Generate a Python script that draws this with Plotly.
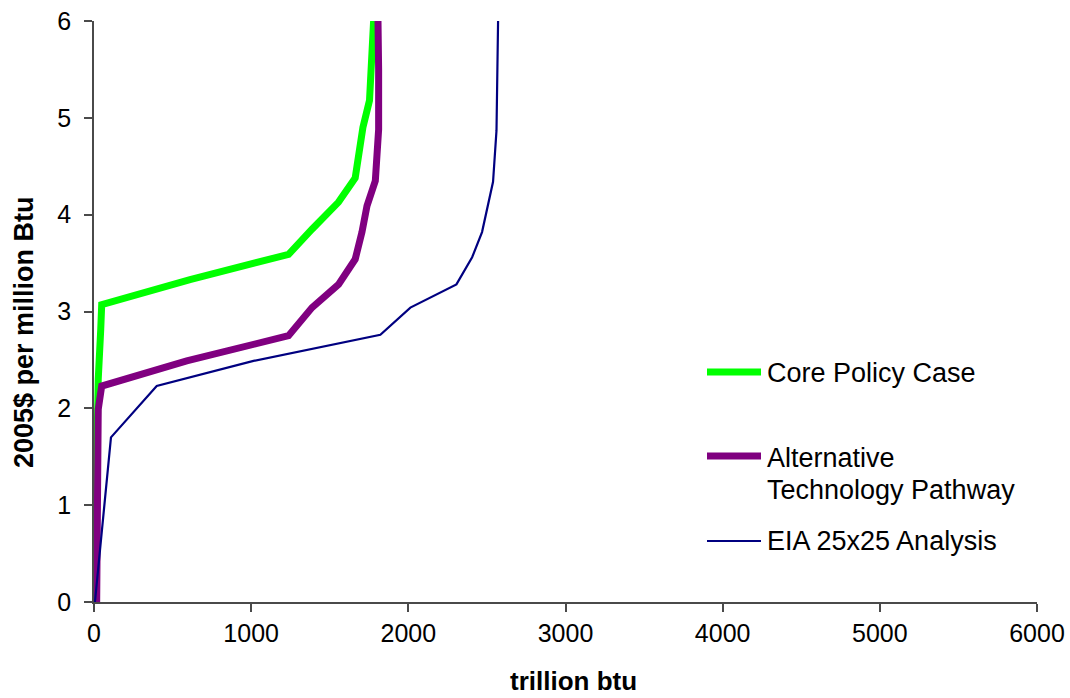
import plotly.graph_objects as go

# Data
core_x = [0, 10, 20, 27, 43, 49, 611, 1238, 1387, 1556, 1662, 1711, 1753, 1775, 1779]
core_y = [0, 1.0, 2.0, 2.3, 2.82, 3.07, 3.33, 3.59, 3.85, 4.13, 4.38, 4.90, 5.18, 5.71, 6.0]

alt_x = [17, 20, 27, 49, 590, 1238, 1387, 1556, 1662, 1705, 1737, 1790, 1811, 1811, 1807]
alt_y = [0, 1.0, 1.99, 2.23, 2.49, 2.75, 3.04, 3.28, 3.54, 3.82, 4.09, 4.35, 4.88, 5.5, 6.0]

eia_x = [6, 108, 399, 1015, 1822, 2013, 2306, 2406, 2469, 2539, 2561, 2565, 2571]
eia_y = [0, 1.70, 2.23, 2.49, 2.76, 3.04, 3.28, 3.56, 3.82, 4.34, 4.87, 5.40, 6.0]

series_names = ["Core Policy Case", "Alternative Technology Pathway", "EIA 25x25 Analysis"]
legend_lines = [["Core Policy Case"], ["Alternative", "Technology Pathway"], ["EIA 25x25 Analysis"]]
series_colors = ["#00FF00", "#800080", "#000080"]
series_widths = [7, 7, 2.2]

x_ticks = [0, 1000, 2000, 3000, 4000, 5000, 6000]
y_ticks = [0, 1, 2, 3, 4, 5, 6]

FONT = "Liberation Sans, Arial, sans-serif"

fig = go.Figure()
for xs, ys, name, col, w in [
    (core_x, core_y, series_names[0], series_colors[0], series_widths[0]),
    (alt_x, alt_y, series_names[1], series_colors[1], series_widths[1]),
    (eia_x, eia_y, series_names[2], series_colors[2], series_widths[2]),
]:
    fig.add_trace(go.Scatter(x=xs, y=ys, mode="lines", name=name,
                             line=dict(color=col, width=w), showlegend=False))

# Page geometry (body margin removed by post_script)
W, H = 1070, 698
PL, PR, PT, PB = 94, 1037, 21, 602  # plot area in page pixels
ml, mr, mt, mb = PL, W - PR, PT, H - PB

def px(x):
    return (x - PL) / (PR - PL)

def py(y):
    return (PB - y) / (PB - PT)

# Manual legend
sample_y = [372, 456, 541]
text_rows = [[372], [457, 489], [540]]
for i in range(3):
    fig.add_shape(type="line", xref="paper", yref="paper",
                  x0=px(707), x1=px(761), y0=py(sample_y[i]), y1=py(sample_y[i]),
                  line=dict(color=series_colors[i], width=series_widths[i]))
    for txt, ty in zip(legend_lines[i], text_rows[i]):
        fig.add_annotation(xref="paper", yref="paper", x=px(765), y=py(ty + 1),
                           text=txt, showarrow=False, xanchor="left", yanchor="middle",
                           align="left", font=dict(family=FONT, size=27, color="black"))

# Axis titles as annotations
fig.add_annotation(xref="paper", yref="paper", x=px(573), y=py(698),
                   text="<b>trillion btu</b>", showarrow=False, xanchor="center", yanchor="bottom",
                   font=dict(family=FONT, size=26, color="black"))
fig.add_annotation(xref="paper", yref="paper", x=px(24), y=py(332),
                   text="<b>2005$ per million Btu</b>", showarrow=False, textangle=-90,
                   xanchor="center", yanchor="middle",
                   font=dict(family=FONT, size=27, color="black"))

axis_col = "#4a4a4a"
fig.update_layout(
    width=W, height=H,
    margin=dict(l=ml, r=mr, t=mt, b=mb, autoexpand=False),
    paper_bgcolor="white", plot_bgcolor="white",
    font=dict(family=FONT, color="black"),
    xaxis=dict(range=[0, 6000], tickvals=x_ticks, showgrid=False, zeroline=False,
               showline=True, linecolor=axis_col, linewidth=1.5,
               ticks="outside", ticklen=8, tickcolor=axis_col, tickwidth=1.5,
               ticklabeloverflow="allow",
               tickfont=dict(family=FONT, size=25, color="black")),
    yaxis=dict(range=[0, 6], tickvals=y_ticks, showgrid=False, zeroline=False,
               showline=True, linecolor=axis_col, linewidth=1.5,
               ticks="outside", ticklen=8, tickcolor=axis_col, tickwidth=1.5,
               ticklabeloverflow="allow", ticklabelstandoff=8,
               tickfont=dict(family=FONT, size=25, color="black")),
)

fig.write_html("out.html", config={"displayModeBar": False},
               post_script="document.body.style.margin='0px';document.body.style.overflow='hidden';")
